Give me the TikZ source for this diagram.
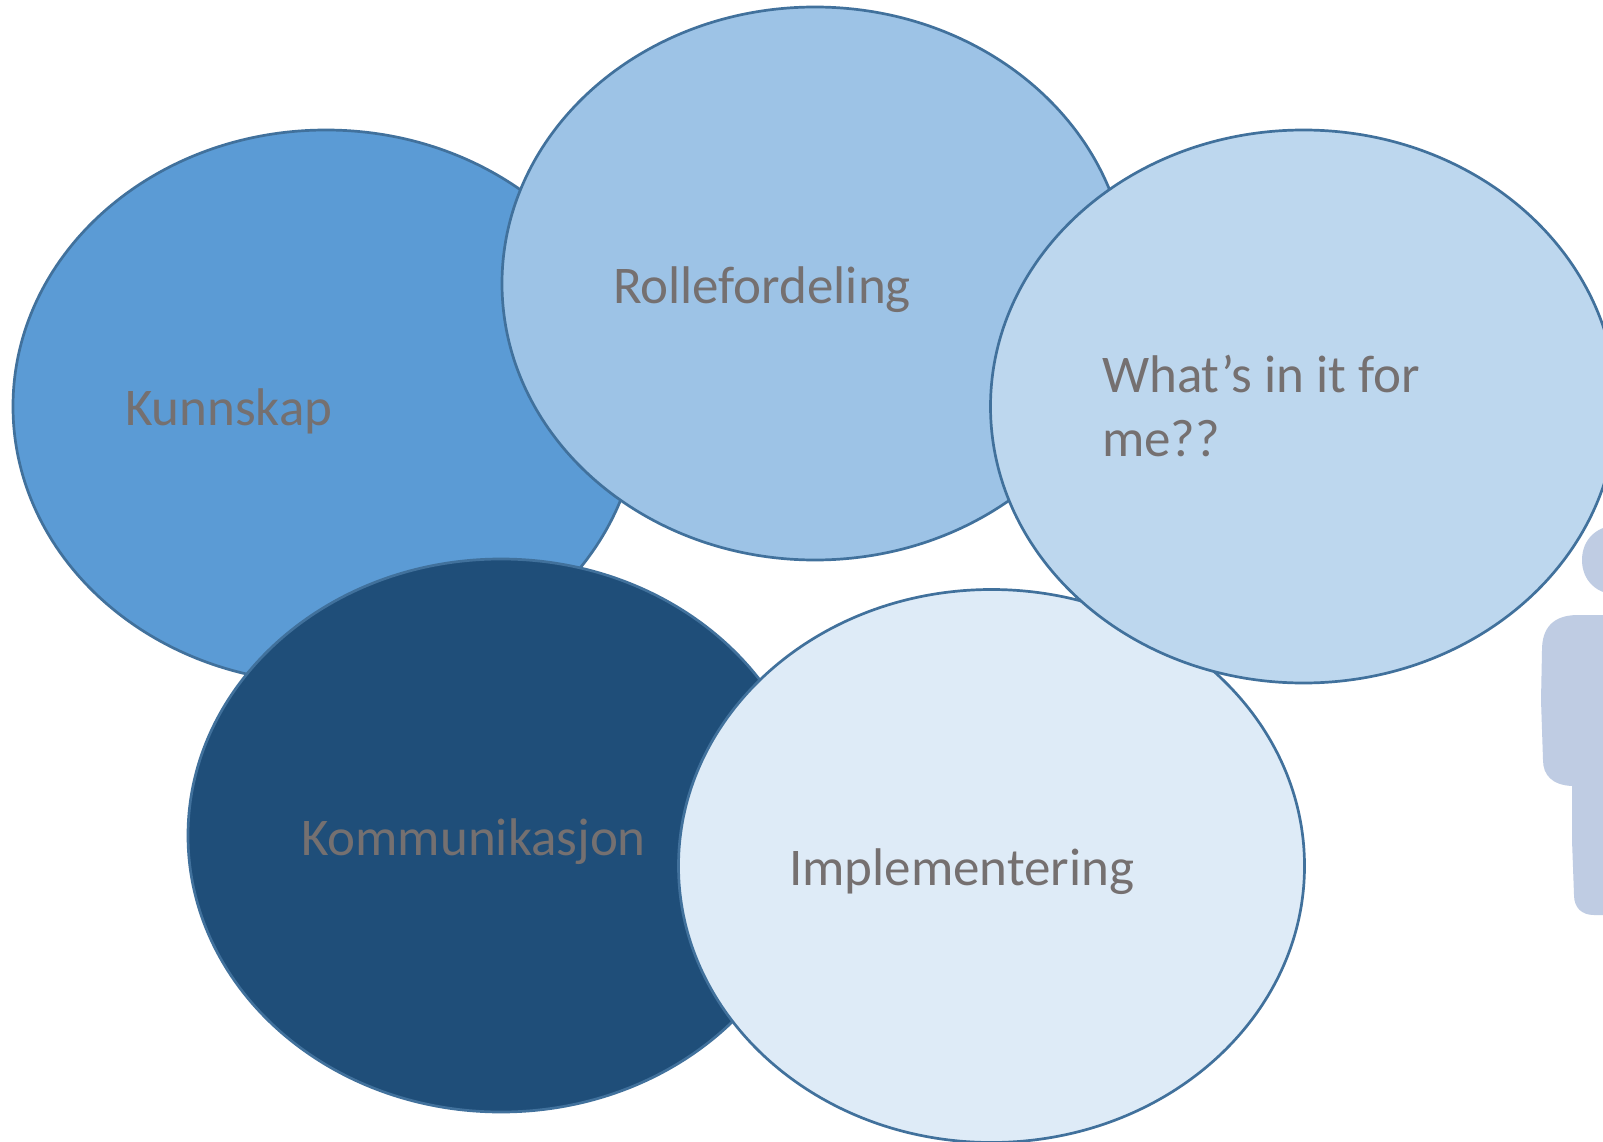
\documentclass[tikz,border=0pt]{standalone}
\usepackage{fontspec}
\setmainfont{Carlito}
\usetikzlibrary{shapes.geometric}
\definecolor{edgeblue}{HTML}{41719C}
\definecolor{txtgray}{HTML}{757070}
\definecolor{figfill}{HTML}{BFCCE3}
\definecolor{fillA}{HTML}{5B9BD5}
\definecolor{fillB}{HTML}{9DC3E6}
\definecolor{fillC}{HTML}{BDD7EE}
\definecolor{fillD}{HTML}{1F4E79}
\definecolor{fillE}{HTML}{DEEBF7}
\tikzset{
  blob/.style={draw=edgeblue,line width=2.7pt,ellipse,inner sep=0pt,outer sep=0pt,minimum width=626pt,minimum height=553pt},
  lbl/.style={anchor=base west,text=txtgray,font=\fontsize{53}{64}\selectfont,inner sep=0pt,outer sep=0pt,align=left}
}
\begin{document}
\begin{tikzpicture}[x=1pt,y=-1pt]
\useasboundingbox (0,0) rectangle (1603,1142);
\clip (0,0) rectangle (1603,1142);
\fill[white] (0,0) rectangle (1603,1142);
% figure at the right edge
\fill[figfill] (1620,525) .. controls (1596,525) and (1582,540) .. (1582,560) .. controls (1582,580) and (1596,595) .. (1620,595) -- cycle;
\fill[figfill] (1620,615) -- (1578,615) .. controls (1553,615) and (1542,628) .. (1542,650) -- (1541,700) -- (1543,760) .. controls (1543,775) and (1552,785) .. (1572,786) -- (1572,840) -- (1574,895) .. controls (1574,908) and (1582,915) .. (1594,915) -- (1620,915) -- cycle;
\node[blob,fill=fillA] (kunnskap) at (326,406.5) {};
\node[blob,fill=fillB] (rolle) at (815,283.5) {};
\node[blob,fill=fillD] (komm) at (501,835.5) {};
\node[blob,fill=fillE] (impl) at (991.5,866) {};
\node[blob,fill=fillC] (whats) at (1303.5,406.5) {};
\node[lbl] (t1) at (125,425) {Kunnskap};
\node[lbl] (t2) at (613,303) {Rollefordeling};
\node[lbl] (t3) at (1102,392) {What’s in it for};
\node[lbl] (t3b) at (1102,456) {me??};
\node[lbl] (t4) at (301,855) {Kommunikasjon};
\node[lbl] (t5) at (789,885) {Implementering};
\end{tikzpicture}
\end{document}
